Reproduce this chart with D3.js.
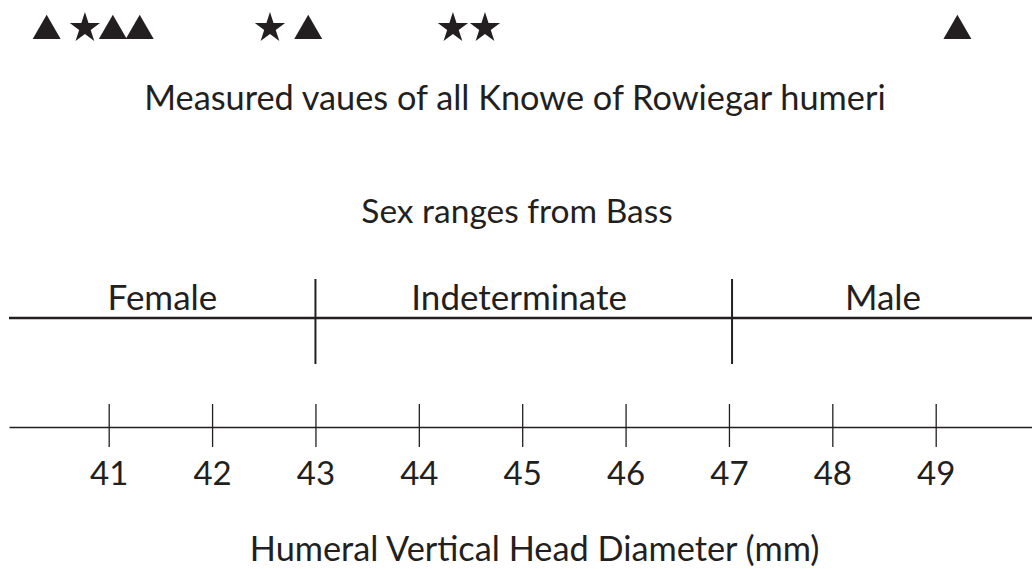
<!DOCTYPE html>
<html>
<head>
<meta charset="utf-8">
<script src="https://cdn.jsdelivr.net/npm/d3@7"></script>
<style>
  html, body { margin: 0; padding: 0; background: #fff; }
  svg { display: block; }
  text { font-family: Lato, "Open Sans", sans-serif; fill: #231f20; }
</style>
</head>
<body>
<svg id="chart" width="1032" height="569"></svg>
<script>
// ---- data ----
const measuredValues = [40.40, 40.77, 41.04, 41.30, 42.56, 42.93, 44.33, 44.64, 49.21];
const measuredShapes = ["triangle", "star", "triangle", "triangle", "star", "triangle", "star", "star", "triangle"];
const tickValues = [41, 42, 43, 44, 45, 46, 47, 48, 49];
const sexBoundaries = [43, 47.03];
const sexLabels = ["Female", "Indeterminate", "Male"];
const sexLabelAt = [41.52, 44.97, 48.49];
const titleMeasured = "Measured vaues of all Knowe of Rowiegar humeri";
const titleRanges = "Sex ranges from Bass";
const axisTitle = "Humeral Vertical Head Diameter (mm)";
const titleAt = [44.93, 44.95, 45.12];

// ---- layout ----
const W = 1032, H = 569;
const ink = "#231f20";
const svg = d3.select("#chart");

const x = d3.scaleLinear().domain([41, 49]).range([108.7, 935.7]);
const xStart = x.invert(9), xEnd = x.invert(W);

// markers
const symTri = d3.symbol().type(d3.symbolTriangle).size(339);
const symStar = d3.symbol().type(d3.symbolStar).size(285);
svg.append("g").selectAll("path")
  .data(measuredValues.map((v, i) => ({ v, s: measuredShapes[i] })))
  .join("path")
  .attr("d", d => d.s === "star" ? symStar() : symTri())
  .attr("transform", d => `translate(${x(d.v)},${d.s === "star" ? 28 : 31})`)
  .attr("fill", ink);

// titles
svg.append("text").attr("x", x(titleAt[0])).attr("y", 110).attr("text-anchor", "middle")
  .attr("font-size", 34.3).text(titleMeasured);
svg.append("text").attr("x", x(titleAt[1])).attr("y", 223).attr("text-anchor", "middle")
  .attr("font-size", 33.5).text(titleRanges);

// sex range labels
svg.append("g").selectAll("text").data(sexLabels).join("text")
  .attr("x", (d, i) => x(sexLabelAt[i])).attr("y", 310)
  .attr("text-anchor", "middle").attr("font-size", 35).text(d => d);

// sex range line
svg.append("line").attr("x1", x(xStart)).attr("x2", x(xEnd))
  .attr("y1", 318).attr("y2", 318).attr("stroke", ink).attr("stroke-width", 2.4);
svg.append("g").selectAll("line").data(sexBoundaries).join("line")
  .attr("x1", d => x(d)).attr("x2", d => x(d))
  .attr("y1", 279).attr("y2", 364).attr("stroke", ink).attr("stroke-width", 2);

// axis
const axisG = svg.append("g").attr("transform", "translate(0,427)")
  .call(d3.axisBottom(x.copy().domain([xStart, xEnd]).range([x(xStart), x(xEnd)]))
    .tickValues(tickValues).tickSize(0).tickSizeOuter(0).tickPadding(0));
axisG.select(".domain").attr("stroke", ink).attr("stroke-width", 1.3);
axisG.selectAll(".tick line").attr("y1", -23).attr("y2", 20)
  .attr("stroke", ink).attr("stroke-width", 1.3);
axisG.selectAll(".tick text").attr("y", 58).attr("dy", null)
  .attr("font-size", 33).attr("font-family", "Lato, 'Open Sans', sans-serif").attr("fill", ink);

svg.append("text").attr("x", x(titleAt[2])).attr("y", 561).attr("text-anchor", "middle")
  .attr("font-size", 34.3).text(axisTitle);
</script>
</body>
</html>
